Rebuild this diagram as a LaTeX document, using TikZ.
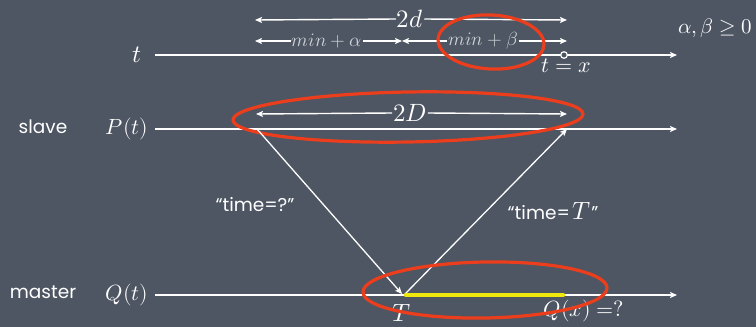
\documentclass[tikz,border=0pt]{standalone}
\usepackage{fontspec}
\usepackage{unicode-math}
\setmathfont{Latin Modern Math}
\usetikzlibrary{arrows.meta}
\newfontfamily\chalk{Poppins}
\definecolor{board}{RGB}{78,86,99}
\definecolor{chalkred}{RGB}{236,62,28}
\definecolor{hilite}{RGB}{240,232,10}
\definecolor{dim}{RGB}{205,210,216}
\tikzset{
  axis/.style={draw=white, line width=1.6pt, -{Stealth[length=7pt,width=6pt,inset=1.5pt]}},
  arr/.style={draw=white, line width=1.4pt, -{Stealth[length=7pt,width=6pt,inset=1.5pt]}},
  diag/.style={draw=white, line width=1.3pt, -{Stealth[length=7pt,width=6pt,inset=1.5pt]}},
  ring/.style={draw=chalkred, line width=3.2pt},
  lbl/.style={text=white, inner sep=1pt},
  big/.style={lbl, font=\fontsize{25}{28}\selectfont},
  mid/.style={lbl, font=\fontsize{22}{25}\selectfont},
  small/.style={text=dim, inner sep=1pt, font=\fontsize{19}{21}\selectfont},
  word/.style={text=white, inner sep=1pt, font=\chalk\fontsize{18.5}{21}\selectfont},
}
\begin{document}
\begin{tikzpicture}[x=1pt,y=-1pt]
\fill[board] (0,0) rectangle (756,327);
\useasboundingbox (0,0) rectangle (756,327);

% ---- top axis t
\coordinate (tA) at (155,55);
\coordinate (tB) at (677,55);
\node[big] (tl) at (137,55) {$t$};
\draw[axis] (tA) -- (tB);
\coordinate (tx) at (564,55);
\node[mid, anchor=north] (txl) at (566,58) {$t=x$};

% 2d
\coordinate (dL) at (255,20);
\coordinate (dR) at (567,20);
\node[big] (d2) at (410,19) {$2d$};
\draw[arr] (d2.west) -- (dL);
\draw[arr] (d2.east) -- (dR);

% min + alpha / min + beta
\coordinate (aL) at (255,41);
\coordinate (aM) at (402,41);
\coordinate (bR) at (567,41);
\node[small] (ma) at (327,41) {$min+\alpha$};
\node[small] (mb) at (483,41) {$min+\beta$};
\draw[arr, line width=1.2pt] (ma.west) -- (aL);
\draw[arr, line width=1.2pt] (ma.east) -- (aM);
\draw[arr, line width=1.2pt] (mb.west) -- (aM);
\draw[arr, line width=1.2pt] (mb.east) -- (bR);
\draw[white, line width=1.2pt, fill=board] (tx) circle (3.3pt);

\node[lbl, font=\fontsize{21}{24}\selectfont] (ab) at (715,28) {$\alpha,\beta\geq 0$};

\draw[ring, rotate around={-3:(491,42)}] (491,42) ellipse [x radius=53, y radius=27];

% ---- slave axis P(t)
\node[word] (slave) at (43,127) {slave};
\node[mid] (pl) at (127,129) {$P(t)$};
\coordinate (pA) at (155,129);
\coordinate (pB) at (677,129);
\draw[axis] (pA) -- (pB);
\coordinate (DL) at (256,114);
\coordinate (DR) at (567,114);
\node[big] (D2) at (410,113) {$2D$};
\draw[arr] (D2.west) -- (DL);
\draw[arr] (D2.east) -- (DR);
\draw[ring, rotate around={1:(408,117)}] (408,117) ellipse [x radius=175, y radius=25];

% ---- master axis Q(t)
\node[word] (master) at (43,292) {master};
\node[mid] (ql) at (127,295) {$Q(t)$};
\coordinate (qA) at (155,295);
\coordinate (qB) at (677,295);
\draw[axis] (qA) -- (qB);
\node[big] (Tl) at (402,313) {$T$};
\node[mid] (qx) at (584,311) {$Q(x)\;{=}{?}$};

% messages
\coordinate (s1) at (257,129);
\coordinate (m1) at (402,294);
\coordinate (m2) at (405,294);
\coordinate (s2) at (567,129);
\draw[diag] (s1) -- (m1);
\draw[diag] (m2) -- (s2);
\node[word] (q1) at (255,205) {“time=?”};
\node[word] (q2) at (553,211) {“time=\,{\fontsize{25}{28}\selectfont$T$}”};

% highlight and ring
\coordinate (hA) at (406,295);
\coordinate (hB) at (563,295);
\draw[hilite, line width=4.5pt, line cap=round] (hA) -- (hB);
\draw[ring, rotate around={1:(485,290)}] (485,290) ellipse [x radius=122, y radius=28];
\end{tikzpicture}
\end{document}
